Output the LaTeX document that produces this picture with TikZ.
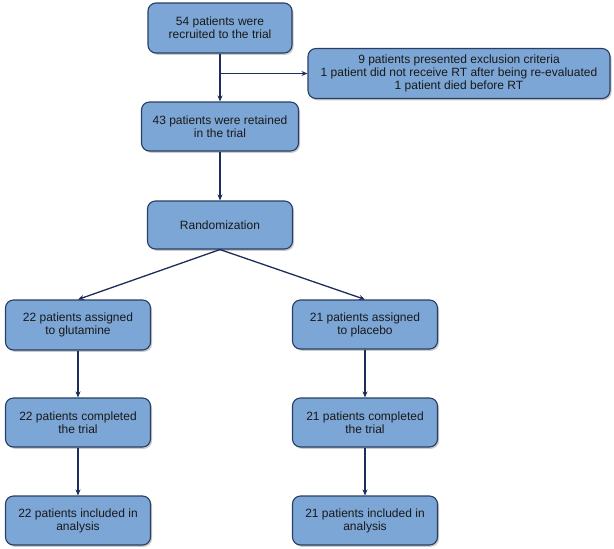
\documentclass[tikz,border=0pt]{standalone}
\usepackage{fontspec}
\setmainfont{Liberation Sans}
\usepackage{tikz}
\usetikzlibrary{arrows.meta, shadows, positioning, calc}
\definecolor{boxblue}{RGB}{124,166,213}
\definecolor{boxedge}{RGB}{40,62,100}
\definecolor{arrowblue}{RGB}{28,45,92}

\begin{document}
\begin{tikzpicture}[x=1pt, y=-1pt,
	box/.style={draw=boxedge, fill=boxblue, line width=1.1pt, rounded corners=8pt, align=center,
		minimum width=145pt, minimum height=49pt, inner sep=1pt, font=\fontsize{12}{13}\selectfont,
		text=black!90, drop shadow={shadow xshift=1.5pt, shadow yshift=-1.8pt, fill=black!35, opacity=0.6}},
	flow/.style={draw=arrowblue, line width=1.3pt, -{Stealth[length=6pt, width=5pt]}}]
	\useasboundingbox (0,0) rectangle (614,549);
	\node[box, minimum width=144pt, minimum height=50pt] (recruit) at (220,28) {54 patients were\\recruited to the trial};
	\node[box, minimum width=302pt, minimum height=50pt] (excl) at (459,73.5) {9 patients presented exclusion criteria\\1 patient did not receive RT after being re-evaluated\\1 patient died before RT};
	\node[box, minimum width=157pt] (retain) at (220,126.5) {43 patients were retained\\in the trial};
	\node[box, minimum height=48pt] (random) at (220,225) {Randomization};
	\node[box, minimum height=50pt] (glut) at (78,325) {22 patients assigned\\to glutamine};
	\node[box] (plac) at (365,324.5) {21 patients assigned\\to placebo};
	\node[box] (complA) at (78,422.5) {22 patients completed\\the trial};
	\node[box] (complB) at (365,422.5) {21 patients completed\\the trial};
	\node[box] (inclA) at (78,520.5) {22 patients included in\\analysis};
	\node[box] (inclB) at (365,520.5) {21 patients included in\\analysis};
	\coordinate (split) at (220,73.5);
	\draw[flow] (recruit) -- (retain);
	\draw[flow] (split) -- (excl);
	\draw[flow] (retain) -- (random);
	\draw[flow] (random.south) -- (glut.north);
	\draw[flow] (random.south) -- (plac.north);
	\draw[flow] (glut) -- (complA);
	\draw[flow] (complA) -- (inclA);
	\draw[flow] (plac) -- (complB);
	\draw[flow] (complB) -- (inclB);
\end{tikzpicture}
\end{document}
